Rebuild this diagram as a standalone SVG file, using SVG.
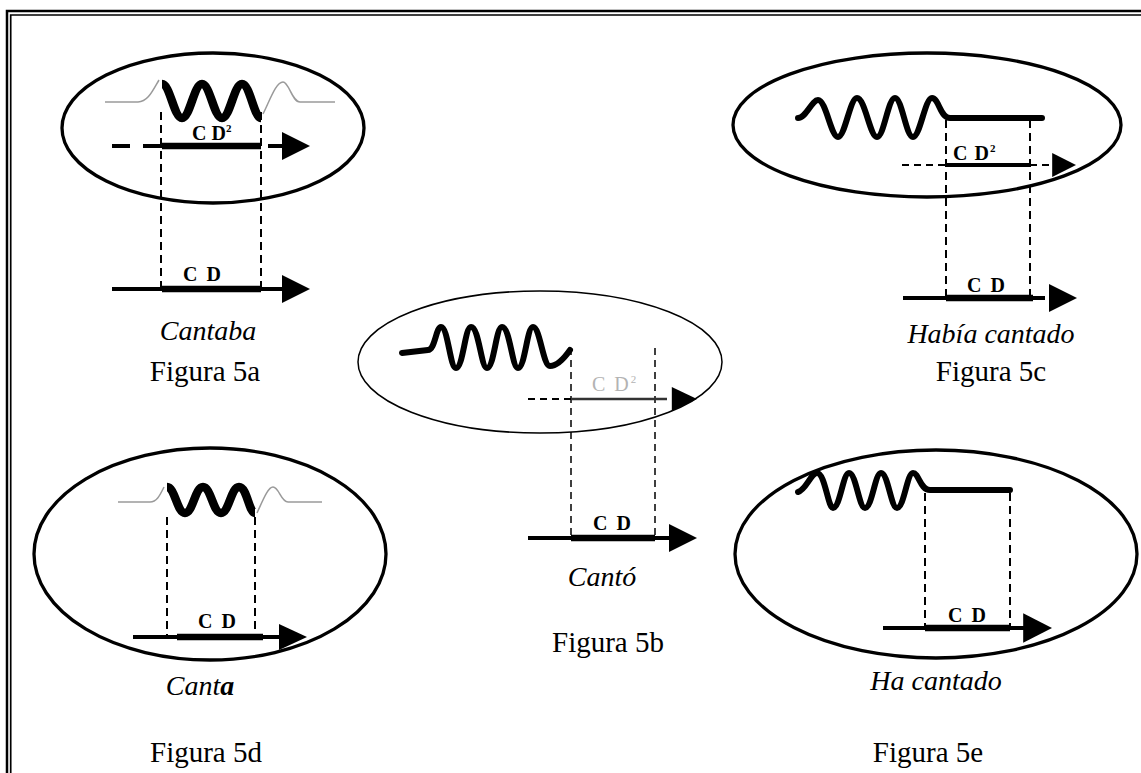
<svg xmlns="http://www.w3.org/2000/svg" xmlns:xlink="http://www.w3.org/1999/xlink" width="1141" height="773" viewBox="0 0 1141 773">
<style>
.bg{fill:#fff}
.frame{fill:none;stroke:#000}
.ell{fill:none;stroke:#000;stroke-width:3.3}
.ellthin{fill:none;stroke:#000;stroke-width:1.5}
.wave{fill:none;stroke:#000;stroke-width:6;stroke-linecap:round;stroke-linejoin:round}
.wavebold{fill:none;stroke:#000;stroke-width:8.5;stroke-linecap:butt;stroke-linejoin:round}
.ghost{fill:none;stroke:#9a9a9a;stroke-width:1.5}
.vdash{fill:none;stroke:#000;stroke-width:2;stroke-dasharray:8 5}
.vdthin{fill:none;stroke:#000;stroke-width:1.5;stroke-dasharray:7 5}
.axis{stroke:#000;stroke-width:4;fill:none}
.axdash{stroke:#000;stroke-width:2;stroke-dasharray:7 5;fill:none}
.seg{stroke:#000;stroke-width:6.5;fill:none}
.segm{stroke:#000;stroke-width:4;fill:none}
.segthin{stroke:#333;stroke-width:2.5;fill:none}
.cd{font-family:"Liberation Serif","Times New Roman",serif;font-weight:bold;font-size:20px;letter-spacing:2px;fill:#000}
.cdg{font-family:"Liberation Serif","Times New Roman",serif;font-size:20px;letter-spacing:2px;fill:#b3b3b3}
.sup{font-size:11px;letter-spacing:0}
.it{font-family:"Liberation Serif","Times New Roman",serif;font-style:italic;font-size:28px;text-anchor:middle;fill:#000}
.fig{font-family:"Liberation Serif","Times New Roman",serif;font-size:29px;text-anchor:middle;fill:#000}
</style>
<defs>
<path id="ah" d="M0,0 L-28,-14 L-28,14 Z" fill="#000"/>
</defs>
<rect class="bg" x="0" y="0" width="1141" height="773"/>
<g id="frame">
<path class="frame" stroke-width="2.5" d="M7,773 V11 H1141"/>
<path class="frame" stroke-width="1.7" d="M10.7,773 V15 H1141"/>
</g>

<g id="fig5a">
<ellipse class="ell" cx="213" cy="128" rx="151" ry="75"/>
<path class="ghost" d="M105,102 L138,102 C148,102 153,90 159,80"/>
<path class="ghost" d="M263,114 C270,100 276,82 283,82 C289,82 292,102 300,102 L335,102"/>
<path class="wavebold" d="M162,84 C170,84 174,118 182,118 C190,118 194,84 202,84 C210,84 214,118 222,118 C230,118 234,84 242,84 C250,84 254,118 261,118"/>
<path class="vdash" d="M161,112 V289 M261,112 V289"/>
<path class="segm" d="M112,146 H130 M143,146 H162"/>
<path class="seg" d="M162,146 H261"/>
<path class="segm" d="M268,146 H283"/>
<use xlink:href="#ah" href="#ah" x="310" y="146"/>
<text class="cd" x="192" y="140" style="letter-spacing:0">C D<tspan class="sup" dy="-8">2</tspan></text>
<path class="axis" d="M112,289 H283"/>
<path class="seg" d="M162,289 H261"/>
<use xlink:href="#ah" href="#ah" x="310" y="289"/>
<text class="cd" x="183" y="281">C D</text>
<text class="it" x="208" y="340">Cantaba</text>
<text class="fig" x="205" y="381">Figura 5a</text>
</g>

<g id="fig5b">
<ellipse class="ellthin" cx="540" cy="362" rx="182" ry="71"/>
<path class="wave" d="M402,353 L428,350 C435,350 436,327 441,327 C448,327 450,368 456,368 C463,368 465,327 471,327 C479,327 481,368 487,368 C494,368 496,327 502,327 C510,327 512,368 518,368 C525,368 527,327 533,327 C540,327 543,366 550,366 C557,366 563,360 570,350"/>
<path class="vdthin" d="M571,348 V538 M655,348 V538"/>
<path class="axdash" d="M528,399 H571"/>
<path class="segthin" d="M571,399 H667"/>
<use xlink:href="#ah" href="#ah" transform="translate(697,399) scale(0.9,0.86)"/>
<text class="cdg" x="592" y="391">C D<tspan class="sup" dy="-8">2</tspan></text>
<path class="axis" d="M528,538 H670"/>
<path class="seg" d="M571,538 H655"/>
<use xlink:href="#ah" href="#ah" x="697" y="538"/>
<text class="cd" x="593" y="530">C D</text>
<text class="it" x="602" y="586">Cantó</text>
<text class="fig" x="608" y="652">Figura 5b</text>
</g>

<g id="fig5c">
<ellipse class="ell" cx="927" cy="125" rx="194" ry="72"/>
<path class="wave" d="M798,118 C806,118 812,100 818,100 C826,100 831,137 838,137 C845,137 850,98 857,98 C865,98 870,137 877,137 C884,137 888,98 895,98 C902,98 906,137 913,137 C920,137 925,98 932,98 C939,98 940,118 950,118 L1042,118"/>
<path class="vdash" d="M946,120 V298 M1030,120 V298"/>
<path class="axdash" d="M902,165 H946 M1030,165 H1055"/>
<path class="segm" d="M946,165 H1030"/>
<use xlink:href="#ah" href="#ah" transform="translate(1076,165) scale(0.85)"/>
<text class="cd" x="953" y="160" style="letter-spacing:1px">C D<tspan class="sup" dy="-8">2</tspan></text>
<path class="axis" d="M903,298 H1045"/>
<path class="seg" d="M946,298 H1033"/>
<use xlink:href="#ah" href="#ah" x="1077" y="298"/>
<text class="cd" x="967" y="292">C D</text>
<text class="it" x="991" y="343">Había cantado</text>
<text class="fig" x="991" y="381">Figura 5c</text>
</g>

<g id="fig5d">
<ellipse class="ell" cx="210" cy="554" rx="176" ry="106"/>
<path class="ghost" d="M118,502 L150,502 C157,502 160,495 164,487"/>
<path class="ghost" d="M257,513 C263,500 268,487 273,487 C279,487 281,502 288,502 L322,502"/>
<path class="wavebold" d="M167,487 C175,487 177,513 185,513 C193,513 195,487 203,487 C211,487 213,513 221,513 C229,513 231,487 239,487 C247,487 249,513 255,513"/>
<path class="vdash" d="M167,517 V635 M255,517 V635"/>
<path class="axis" d="M133,637 H280"/>
<path class="seg" d="M177,637 H263"/>
<use xlink:href="#ah" href="#ah" transform="translate(307,637) scale(1,0.93)"/>
<text class="cd" x="198" y="628">C D</text>
<text class="it" x="200" y="695">Cant<tspan font-weight="bold">a</tspan></text>
<text class="fig" x="206" y="762">Figura 5d</text>
</g>

<g id="fig5e">
<ellipse class="ell" cx="936" cy="554" rx="201" ry="104"/>
<path class="wave" d="M798,492 C806,490 811,473 817,473 C825,473 828,508 833,508 C840,508 843,473 849,473 C856,473 859,508 865,508 C872,508 875,473 881,473 C888,473 891,508 897,508 C904,508 907,473 913,473 C919,473 920,490 930,490 L1010,490"/>
<path class="vdash" d="M925,493 V627 M1010,493 V627"/>
<path class="axis" d="M883,628 H1025"/>
<path class="seg" d="M925,628 H1010"/>
<use xlink:href="#ah" href="#ah" transform="translate(1052,628) scale(1.03,1.05)"/>
<text class="cd" x="948" y="622">C D</text>
<text class="it" x="936" y="690">Ha cantado</text>
<text class="fig" x="928" y="762">Figura 5e</text>
</g>
</svg>
